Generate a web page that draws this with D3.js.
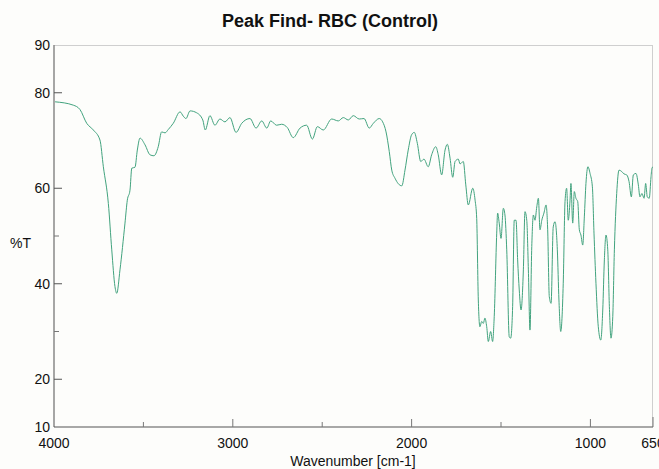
<html>
<head>
    <title>Peak Find- RBC (Control)</title>
    <style>
        body {
            margin: 0;
            padding: 0;
            background-color: #fdfdfb;
            font-family: "Liberation Sans", Arial, sans-serif;
        }

        .title {
            font-size: 18px;
            font-weight: bold;
            fill: #111;
        }

        .tick-label {
            font-size: 14px;
            fill: #111;
        }

        .axis-label {
            font-size: 14px;
            fill: #111;
        }

        .spectrum {
            fill: none;
            stroke: #42a37e;
            stroke-width: 1;
        }
    </style>
</head>

<body>
    <div class="chart"></div>
    <script src="https://d3js.org/d3.v7.min.js"></script>
    <script>
// spectrum: wavenumber (cm-1) and %T
const wavenumber = [
    3994, 3892, 3855, 3817, 3780, 3743, 3724, 3696, 3677, 3659, 3649, 3631, 3603, 3590, 3575, 3565,
    3547, 3534, 3519, 3491, 3463, 3441, 3417, 3398, 3379, 3361, 3333, 3295, 3277, 3262, 3239, 3202,
    3168, 3154, 3128, 3100, 3072, 3044, 3016, 2982, 2950, 2904, 2870, 2838, 2810, 2788, 2755, 2727,
    2695, 2662, 2624, 2587, 2555, 2527, 2494, 2447, 2410, 2382, 2354, 2326, 2293, 2266, 2237, 2214,
    2181, 2162, 2143, 2125, 2111, 2093, 2055, 2037, 2019, 2000, 1985, 1968, 1949, 1931, 1907, 1888,
    1865, 1851, 1832, 1813, 1800, 1785, 1770, 1757, 1739, 1729, 1711, 1697, 1683, 1658, 1645, 1636,
    1627, 1618, 1608, 1599, 1590, 1580, 1571, 1558, 1547, 1538, 1524, 1519, 1510, 1500, 1487, 1478,
    1468, 1454, 1446, 1435, 1426, 1416, 1407, 1398, 1388, 1375, 1366, 1356, 1347, 1338, 1328, 1319,
    1310, 1300, 1291, 1282, 1272, 1260, 1248, 1239, 1230, 1220, 1208, 1198, 1185, 1176, 1166, 1152,
    1142, 1133, 1124, 1114, 1109, 1099, 1090, 1081, 1071, 1062, 1053, 1043, 1034, 1025, 1014, 1002,
    989, 980, 969, 956, 942, 931, 922, 913, 903, 894, 885, 875, 866, 853, 840, 825,
    812, 797, 784, 771, 760, 745, 732, 723, 712, 700, 691, 682, 671, 661, 656, 650
];
const transmittance = [
    78.1, 77.4, 76.5, 73.6, 72.2, 70.1, 64.5, 56.8, 47.1, 39.4, 38.0, 42.9, 52.7, 57.5, 59.6, 64.2,
    64.4, 68.0, 70.5, 69.1, 67.0, 66.8, 68.7, 71.8, 71.6, 72.3, 73.6, 76.0, 75.1, 74.6, 76.2, 75.8,
    74.3, 72.2, 75.2, 73.2, 74.5, 73.9, 74.8, 71.7, 73.6, 74.6, 72.6, 74.1, 72.6, 74.1, 73.2, 73.4,
    72.7, 70.6, 72.6, 73.2, 70.3, 72.9, 72.2, 74.5, 74.1, 74.8, 74.3, 75.2, 74.5, 74.6, 72.6, 73.6,
    74.6, 73.9, 71.8, 67.7, 63.8, 62.1, 60.5, 63.8, 68.0, 71.2, 71.7, 69.4, 65.6, 66.1, 64.5, 67.0,
    68.7, 67.0, 62.8, 68.0, 69.2, 66.3, 62.3, 65.6, 66.1, 65.1, 65.6, 60.7, 56.5, 60.0, 57.5, 53.7,
    36.6, 31.0, 32.1, 31.7, 32.8, 31.0, 27.9, 30.0, 27.9, 33.1, 50.6, 54.8, 52.7, 49.5, 55.8, 54.4,
    47.1, 28.9, 28.6, 35.2, 53.3, 53.3, 45.0, 38.7, 34.5, 42.9, 55.1, 53.3, 42.9, 30.3, 47.8, 54.4,
    53.3, 56.1, 57.9, 51.3, 53.3, 54.8, 56.5, 51.3, 37.3, 35.9, 51.9, 53.0, 47.1, 36.6, 30.0, 40.1,
    57.2, 60.0, 53.3, 57.5, 61.0, 52.7, 59.3, 57.9, 57.2, 51.3, 50.2, 48.1, 54.0, 61.0, 64.5, 63.1,
    60.3, 50.6, 40.1, 31.0, 28.2, 34.5, 45.0, 50.2, 47.1, 35.2, 28.6, 33.1, 47.1, 58.9, 63.8, 63.5,
    63.0, 62.8, 61.4, 58.2, 62.8, 63.1, 60.7, 58.2, 58.9, 57.9, 61.0, 58.2, 57.9, 62.4, 64.2, 64.5
];

// axis ticks
const xLabelTicks = [4000, 3000, 2000, 1000, 650];
const xMajorTicks = [3000, 2000, 1000, 650];
const xMinorTicks = [3500, 2500, 1500];
const yLabelTicks = [90, 80, 60, 40, 20, 10];
const yMajorTicks = [80, 60, 40, 20];
const yMinorTicks = [50, 30];

const W = 659, H = 469;
const margin = { top: 45, right: 6, bottom: 42, left: 54 };
const width = W - margin.left - margin.right;
const height = H - margin.top - margin.bottom;

const svg = d3.select('.chart')
    .append('svg')
    .attr('width', W)
    .attr('height', H)
    .style('display', 'block');

svg.append('text')
    .attr('class', 'title')
    .attr('x', 330)
    .attr('y', 27)
    .attr('text-anchor', 'middle')
    .text('Peak Find- RBC (Control)');

const g = svg.append('g')
    .attr('transform', `translate(${margin.left},${margin.top})`);

const x = d3.scaleLinear().domain([4000, 650]).range([0, width]);
const y = d3.scaleLinear().domain([10, 90]).range([height, 0]);

// light frame on top and right
g.append('line').attr('x1', 0).attr('x2', width).attr('y1', 0.5).attr('y2', 0.5)
    .attr('stroke', '#cfcfcf');
g.append('line').attr('x1', width - 0.5).attr('x2', width - 0.5).attr('y1', 0).attr('y2', height)
    .attr('stroke', '#cfcfcf');

// left and bottom axis lines
g.append('line').attr('x1', 0).attr('x2', 0).attr('y1', 0).attr('y2', height)
    .attr('stroke', '#888').attr('stroke-width', 1.5);
g.append('line').attr('x1', 0).attr('x2', width).attr('y1', height).attr('y2', height)
    .attr('stroke', '#555').attr('stroke-width', 1.2);

// ticks
g.selectAll('.xmaj').data(xMajorTicks).enter().append('line')
    .attr('x1', d => x(d)).attr('x2', d => x(d))
    .attr('y1', height).attr('y2', d => height - (d === 650 ? 10 : 8))
    .attr('stroke', '#777');
g.selectAll('.xmin').data(xMinorTicks).enter().append('line')
    .attr('x1', d => x(d)).attr('x2', d => x(d))
    .attr('y1', height).attr('y2', height - 5)
    .attr('stroke', '#777');
g.selectAll('.ymaj').data(yMajorTicks).enter().append('line')
    .attr('x1', 0).attr('x2', 8)
    .attr('y1', d => y(d)).attr('y2', d => y(d))
    .attr('stroke', '#555');
g.selectAll('.ymin').data(yMinorTicks).enter().append('line')
    .attr('x1', 0).attr('x2', 5)
    .attr('y1', d => y(d)).attr('y2', d => y(d))
    .attr('stroke', '#777');

g.selectAll('.xl').data(xLabelTicks).enter().append('text')
    .attr('class', 'tick-label')
    .attr('x', d => x(d))
    .attr('y', height + 21)
    .attr('text-anchor', 'middle')
    .text(d => d);
g.selectAll('.yl').data(yLabelTicks).enter().append('text')
    .attr('class', 'tick-label')
    .attr('x', -4)
    .attr('y', d => y(d) + 5)
    .attr('text-anchor', 'end')
    .text(d => d);

svg.append('text')
    .attr('class', 'axis-label')
    .attr('x', 353)
    .attr('y', 466)
    .attr('text-anchor', 'middle')
    .text('Wavenumber [cm-1]');
svg.append('text')
    .attr('class', 'axis-label')
    .attr('x', 10)
    .attr('y', 248)
    .text('%T');

const points = wavenumber.map((w, i) => [w, transmittance[i]]);
const line = d3.line()
    .x(d => x(d[0]))
    .y(d => y(d[1]))
    .curve(d3.curveMonotoneX);

g.append('path')
    .datum(points)
    .attr('class', 'spectrum')
    .attr('d', line);
    </script>
</body>
</html>
